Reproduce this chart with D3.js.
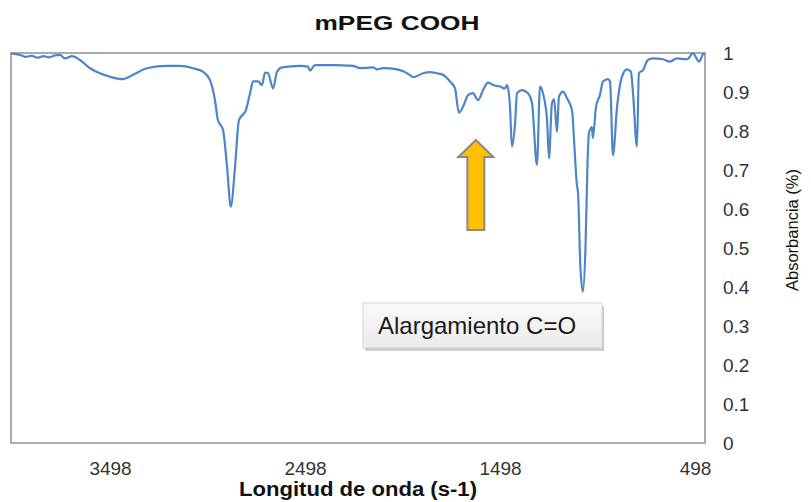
<!DOCTYPE html>
<html>
<head>
<meta charset="utf-8">
<script src="https://cdn.jsdelivr.net/npm/d3@7"></script>
<style>
  html, body { margin: 0; padding: 0; background: #fff; }
  svg { display: block; font-family: "Liberation Sans", Arial, sans-serif; }
</style>
</head>
<body>
<svg id="chart" width="811" height="502"></svg>
<script>
// ---- data ----
const wavenumber = [4006,3960,3930,3900,3870,3840,3810,3780,3755,3729,3693,3652,3601,3550,3498,3437,3380,3309,3206,3139,3073,3022,2986,2960,2945,2919,2898,2879,2857,2837,2801,2780,2765,2739,2719,2703,2688,2662,2642,2616,2524,2483,2473,2447,2355,2252,2216,2150,2129,2098,2026,2011,1985,1959,1944,1893,1857,1821,1791,1755,1729,1709,1688,1662,1637,1611,1585,1560,1534,1498,1473,1462,1447,1437,1421,1411,1386,1355,1334,1309,1293,1278,1257,1247,1232,1221,1206,1196,1175,1155,1129,1119,1112,1104,1098,1086,1073,1060,1049,1042,1027,1022,1006,986,970,945,934,919,898,873,847,827,816,796,786,765,740,714,663,627,591,539,509,477,457,447];
const absorbance = [0.999,0.995,0.990,0.993,0.988,0.992,0.989,0.994,0.995,0.986,0.992,0.982,0.961,0.948,0.939,0.933,0.944,0.961,0.967,0.967,0.961,0.952,0.931,0.879,0.828,0.803,0.708,0.606,0.708,0.828,0.854,0.897,0.927,0.927,0.918,0.950,0.948,0.909,0.952,0.963,0.967,0.965,0.955,0.969,0.969,0.967,0.961,0.963,0.958,0.961,0.958,0.956,0.951,0.943,0.938,0.948,0.951,0.948,0.944,0.927,0.909,0.847,0.862,0.892,0.897,0.879,0.905,0.924,0.918,0.914,0.909,0.918,0.862,0.760,0.820,0.897,0.905,0.897,0.871,0.713,0.914,0.897,0.828,0.730,0.871,0.881,0.798,0.888,0.901,0.884,0.854,0.780,0.720,0.662,0.641,0.450,0.388,0.500,0.726,0.795,0.810,0.782,0.862,0.892,0.927,0.933,0.927,0.738,0.862,0.939,0.958,0.952,0.897,0.760,0.948,0.956,0.982,0.986,0.984,0.978,0.986,0.984,0.999,0.978,0.997,0.999];
const xTickValues = [3498, 2498, 1498, 498];
const yTickValues = [0, 0.1, 0.2, 0.3, 0.4, 0.5, 0.6, 0.7, 0.8, 0.9, 1];
const chartTitle = "mPEG COOH";
const xTitle = "Longitud de onda (s-1)";
const yTitle = "Absorbancia (%)";
const annotationText = "Alargamiento C=O";
// annotation anchors in data units
const arrowX = 1622, arrowTop = 0.777, arrowBottom = 0.546;
const boxX0 = 2201, boxX1 = 975, boxTop = 0.359, boxBottom = 0.244;

// ---- layout ----
const svg = d3.select("#chart");
const plot = { left: 11, right: 705, top: 53, bottom: 443 };

const x = d3.scaleLinear().domain([4006, 447]).range([plot.left, plot.right]);
const y = d3.scaleLinear().domain([0, 1]).range([plot.bottom, plot.top]);

// plot area border
svg.append("rect")
  .attr("x", plot.left).attr("y", plot.top)
  .attr("width", plot.right - plot.left).attr("height", plot.bottom - plot.top)
  .attr("fill", "none").attr("stroke", "#8f8f8f").attr("stroke-width", 1.5);

// y axis (right side), labels left-aligned
const yAxis = d3.axisRight(y).tickValues(yTickValues).tickSize(0).tickPadding(0)
  .tickFormat(d => d3.format("~g")(d));
const gy = svg.append("g").attr("transform", `translate(${plot.right + 18},0)`).call(yAxis);
gy.select(".domain").remove();
gy.selectAll("text").attr("font-size", 19).attr("fill", "#333").attr("x", 0)
  .attr("font-family", "'Liberation Sans', Arial, sans-serif");

// x axis
const xAxis = d3.axisBottom(x).tickValues(xTickValues).tickSize(0).tickPadding(0)
  .tickFormat(d3.format("d"));
const gx = svg.append("g").attr("transform", `translate(0,${plot.bottom + 18})`).call(xAxis);
gx.select(".domain").remove();
gx.selectAll("text").attr("font-size", 19).attr("fill", "#333")
  .attr("font-family", "'Liberation Sans', Arial, sans-serif");

// spectrum line
const pts = wavenumber.map((w, i) => [w, absorbance[i]]);
const line = d3.line().x(d => x(d[0])).y(d => y(d[1])).curve(d3.curveMonotoneX);
svg.append("path").datum(pts)
  .attr("d", line)
  .attr("fill", "none")
  .attr("stroke", "#4d85c7")
  .attr("stroke-width", 2.2)
  .attr("stroke-linejoin", "round");

// arrow annotation
const ax = x(arrowX), aTop = y(arrowTop), aBot = y(arrowBottom);
const headH = 17, headW = 17.5, shaftW = 8.5;
const arrowPath = d3.path();
arrowPath.moveTo(ax, aTop);
arrowPath.lineTo(ax + headW, aTop + headH);
arrowPath.lineTo(ax + shaftW, aTop + headH);
arrowPath.lineTo(ax + shaftW, aBot);
arrowPath.lineTo(ax - shaftW, aBot);
arrowPath.lineTo(ax - shaftW, aTop + headH);
arrowPath.lineTo(ax - headW, aTop + headH);
arrowPath.closePath();
svg.append("path").attr("d", arrowPath.toString())
  .attr("fill", "#ffc000").attr("stroke", "#8a8a8a").attr("stroke-width", 2)
  .attr("stroke-linejoin", "miter");

// text box annotation
const defs = svg.append("defs");
const grad = defs.append("linearGradient").attr("id", "boxgrad")
  .attr("x1", 0).attr("y1", 0).attr("x2", 0).attr("y2", 1);
grad.append("stop").attr("offset", "0%").attr("stop-color", "#f9f9f9");
grad.append("stop").attr("offset", "100%").attr("stop-color", "#ececec");
const bx0 = x(boxX0), bx1 = x(boxX1), by0 = y(boxTop), by1 = y(boxBottom);
svg.append("rect").attr("x", bx0 + 2).attr("y", by0 + 3)
  .attr("width", bx1 - bx0).attr("height", by1 - by0)
  .attr("fill", "#bdbdbd").attr("opacity", 0.8);
svg.append("rect").attr("x", bx0).attr("y", by0)
  .attr("width", bx1 - bx0).attr("height", by1 - by0)
  .attr("fill", "url(#boxgrad)").attr("stroke", "#d6d6d6").attr("stroke-width", 1);
svg.append("text").attr("x", bx0 + 15).attr("y", by0 + 31)
  .attr("font-size", 24).attr("fill", "#1a1a1a")
  .text(annotationText);

// titles
svg.append("text").attr("x", 397).attr("y", 30).attr("text-anchor", "middle")
  .attr("font-size", 21).attr("font-weight", "bold").attr("fill", "#111")
  .attr("textLength", 165).attr("lengthAdjust", "spacingAndGlyphs")
  .text(chartTitle);
svg.append("text").attr("x", 358).attr("y", 496).attr("text-anchor", "middle")
  .attr("font-size", 20).attr("font-weight", "bold").attr("fill", "#111")
  .attr("textLength", 238).attr("lengthAdjust", "spacingAndGlyphs")
  .text(xTitle);
svg.append("text")
  .attr("transform", "translate(798,230) rotate(-90)")
  .attr("text-anchor", "middle").attr("font-size", 16.5).attr("fill", "#111")
  .text(yTitle);
</script>
</body>
</html>
